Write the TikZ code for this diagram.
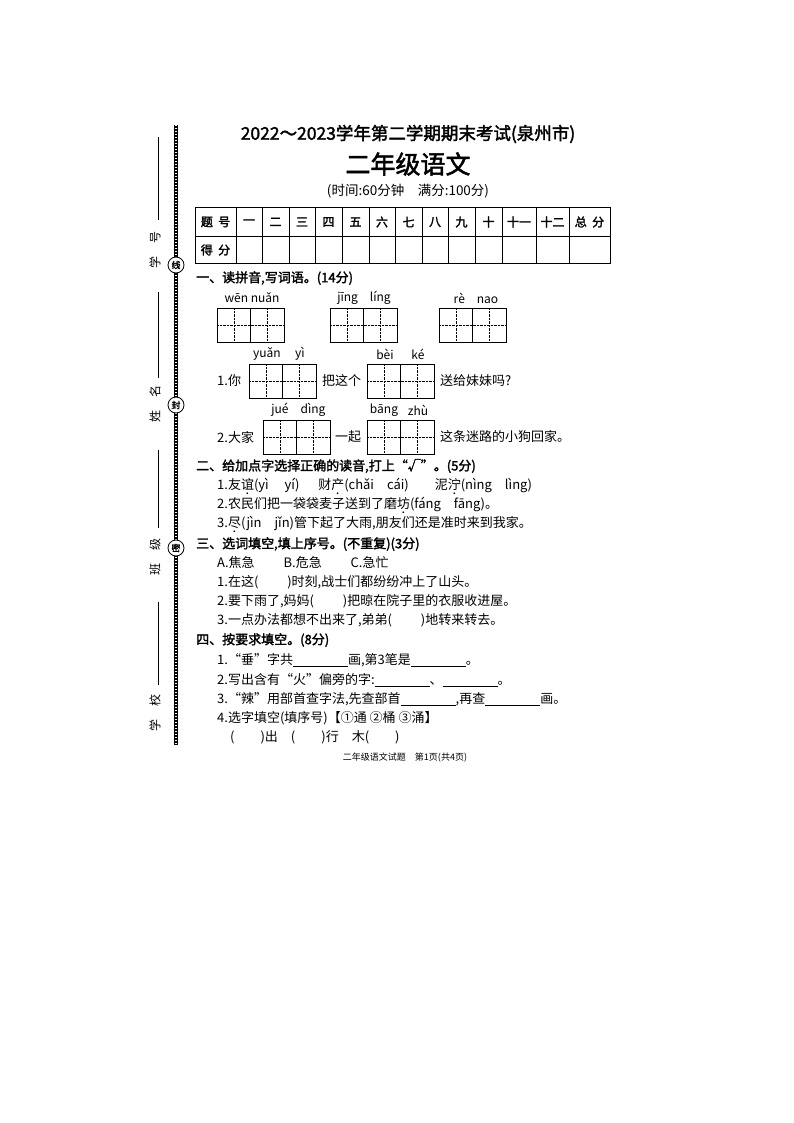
\documentclass[tikz,border=0pt]{standalone}
\usepackage{fontspec}
\setmainfont{Noto Sans CJK SC}
\newfontfamily\bfc[FakeBold=2]{Noto Sans CJK SC}
\newcommand\dotc[1]{\ooalign{#1\cr\hidewidth\raisebox{-5pt}{.}\hidewidth\cr}}
\begin{document}
\begin{tikzpicture}[x=1pt,y=-1pt,
  t/.style={anchor=west,inner sep=0pt,font=\fontsize{13}{13}\selectfont},
  hd/.style={anchor=west,inner sep=0pt,font=\fontsize{13}{13}\selectfont\bfc},
  py/.style={inner sep=0pt,font=\fontsize{12}{12}\selectfont},
  side/.style={inner sep=0pt,rotate=90,font=\fontsize{12}{12}\selectfont},
  seal/.style={circle,draw,fill=white,line width=0.8pt,minimum size=16pt,inner sep=0pt,font=\fontsize{9}{9}\selectfont\bfc},
  cell/.style={draw,line width=0.9pt},
  grid/.style={densely dotted,line width=0.4pt}]
\useasboundingbox (0,0) rectangle (794,1123);
% binding line
\draw[line width=3.5pt] (176,125) -- (176,745);
\draw[white,line width=1.3pt,dash pattern=on 1.2pt off 1.8pt] (176,125) -- (176,745);
\node[seal] (s1) at (176,265) {线};
\node[seal] (s2) at (176,405) {封};
\node[seal] (s3) at (176,548) {密};
% side labels
\draw[line width=0.6pt] (158,137) -- (158,220);
\node[side] (l1) at (155,250) {学\hspace{13pt}号};
\draw[line width=0.6pt] (158,292) -- (158,378);
\node[side] (l2) at (155,404) {姓\hspace{13pt}名};
\draw[line width=0.6pt] (158,450) -- (158,528);
\node[side] (l3) at (155,557) {班\hspace{13pt}级};
\draw[line width=0.6pt] (158,602) -- (158,685);
\node[side] (l4) at (155,713) {学\hspace{13pt}校};
% titles
\node[inner sep=0pt,font=\fontsize{17.5}{18}\selectfont\bfc] (t1) at (408,134) {2022～2023学年第二学期期末考试(泉州市)};
\node[inner sep=0pt,font=\fontsize{25}{25}\selectfont\bfc] (t2) at (408,164) {二年级语文};
\node[inner sep=0pt,font=\fontsize{13.5}{14}\selectfont] (t3) at (408,191) {(时间:60分钟\quad 满分:100分)};
% score table
\draw[line width=1pt] (195,208) rectangle (610,263);
\draw[line width=0.7pt] (195,236) -- (610,236);
\foreach \x in {236,262,289,315,342,369,395,422,448,475,502,536,569} \draw[line width=0.7pt] (\x,208) -- (\x,263);
\foreach \c/\s in {215.5/题\ \ 号,249/一,275.5/二,302/三,328.5/四,355.5/五,382/六,408.5/七,435/八,461.5/九,488.5/十,519/十一,552.5/十二,589.5/总\ \ 分}
  \node[inner sep=0pt,font=\fontsize{12}{12}\selectfont\bfc] at (\c,222) {\s};
\node[inner sep=0pt,font=\fontsize{12}{12}\selectfont\bfc] (df) at (215.5,250) {得\ \ 分};
% section 1
\node[hd] (h1) at (196,278) {一、读拼音,写词语。\mdseries(14分)};
\foreach \x/\y in {217/308,330/308,439/308,249/364,367/364,263/420,367/420}{
  \draw[grid] (\x,\y+17) -- (\x+67,\y+17);
  \draw[grid] (\x+16.75,\y) -- (\x+16.75,\y+34);
  \draw[grid] (\x+50.25,\y) -- (\x+50.25,\y+34);
  \draw[cell] (\x,\y) rectangle (\x+67,\y+34);
  \draw[cell] (\x+33.5,\y) -- (\x+33.5,\y+34);
}
\node[py] at (252,298) {wēn nuǎn};
\node[py] at (364,298) {jīng\quad líng};
\node[py] at (476,298) {rè\quad nao};
\node[py] at (267,354) {yuǎn};
\node[py] at (300,354) {yì};
\node[py] at (385,354) {bèi};
\node[py] at (418,354) {ké};
\node[py] at (280,410) {jué};
\node[py] at (313,410) {dìng};
\node[py] at (384,410) {bāng};
\node[py] at (418,410) {zhù};
\node[t] at (217,381) {1.你};
\node[t] at (322,381) {把这个};
\node[t] at (440,381) {送给妹妹吗?};
\node[t] at (217,437) {2.大家};
\node[t] at (335,437) {一起};
\node[t] at (440,437) {这条迷路的小狗回家。};
% section 2
\node[hd] (h2) at (196,466) {二、给加点字选择正确的读音,打上“√”。\mdseries(5分)};
\node[t] at (217,486) {1.友\dotc{谊}(yì\quad\ yí)\quad\ \ 财\dotc{产}(chǎi\quad cái)\qquad 泥\dotc{泞}(nìng\quad lìng)};
\node[t] at (217,505) {2.农民们把一袋袋麦子送到了磨\dotc{坊}(fáng\quad fāng)。};
\node[t] at (217,524) {3.\dotc{尽}(jìn\quad jǐn)管下起了大雨,朋友们还是准时来到我家。};
% section 3
\node[hd] (h3) at (196,544) {三、选词填空,填上序号。(不重复)\mdseries(3分)};
\node[t] at (217,563) {A.焦急\qquad\ B.危急\qquad\ C.急忙};
\node[t] at (217,582) {1.在这(\qquad\ )时刻,战士们都纷纷冲上了山头。};
\node[t] at (217,601) {2.要下雨了,妈妈(\qquad\ )把晾在院子里的衣服收进屋。};
\node[t] at (217,620) {3.一点办法都想不出来了,弟弟(\qquad\ )地转来转去。};
% section 4
\node[hd] (h4) at (196,640) {四、按要求填空。\mdseries(8分)};
\node[t] at (217,660) {1.“垂”字共\rule[-2pt]{55pt}{0.5pt}画,第3笔是\rule[-2pt]{55pt}{0.5pt}。};
\node[t] at (217,680) {2.写出含有“火”偏旁的字:\rule[-2pt]{55pt}{0.5pt}、\rule[-2pt]{55pt}{0.5pt}。};
\node[t] at (217,699) {3.“辣”用部首查字法,先查部首\rule[-2pt]{55pt}{0.5pt},再查\rule[-2pt]{55pt}{0.5pt}画。};
\node[t] at (217,718) {4.选字填空(填序号)【①通 ②桶 ③涌】};
\node[t] at (230,737) {(\qquad )出\quad (\qquad )行\quad 木(\qquad )};
\node[inner sep=0pt,font=\fontsize{9}{9}\selectfont] (ft) at (405,758) {二年级语文试题\quad 第1页(共4页)};
\end{tikzpicture}
\end{document}
